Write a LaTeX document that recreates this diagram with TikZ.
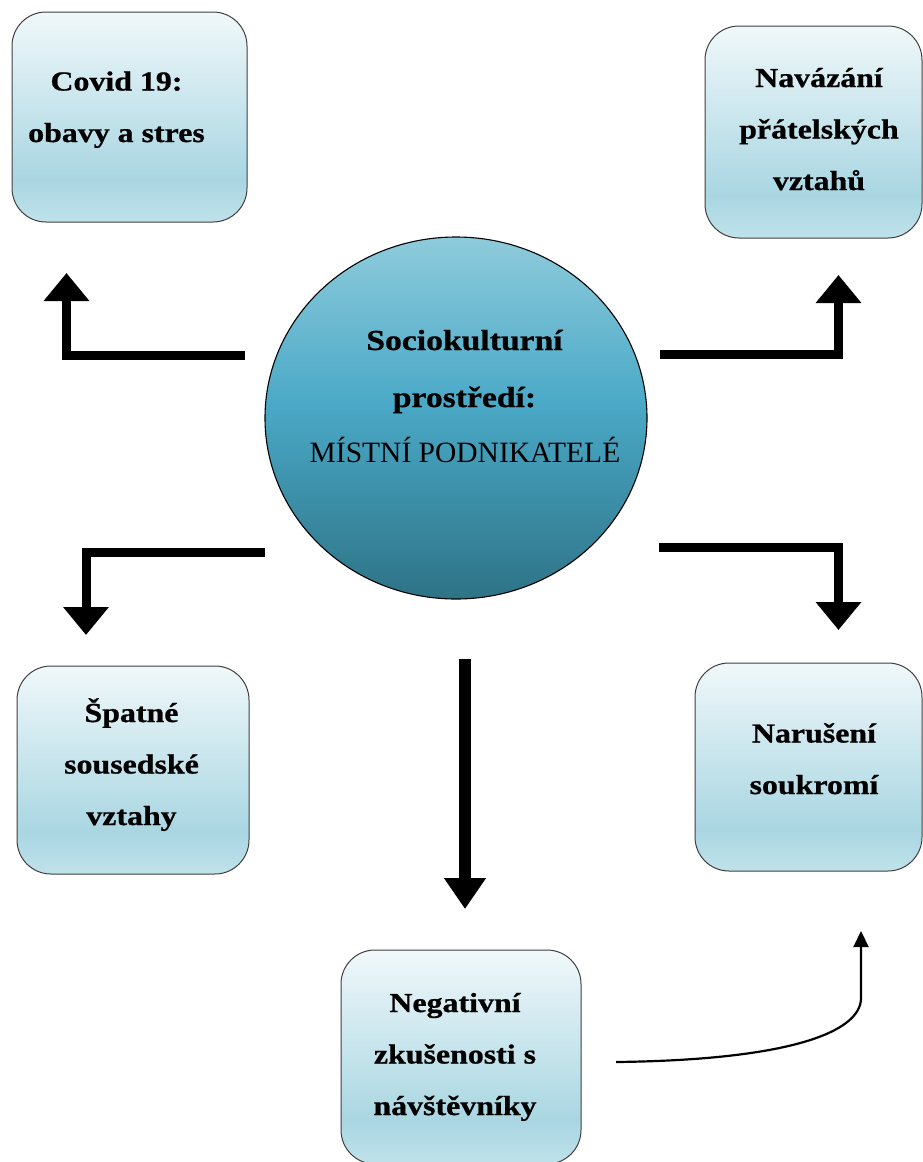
\documentclass[tikz,border=0pt]{standalone}
\usepackage{fontspec}
\setmainfont{Liberation Serif}[BoldFeatures={FakeStretch=1.16,FakeBold=0.8}]
\usetikzlibrary{arrows.meta,shapes.geometric}
\definecolor{boxtop}{HTML}{F0F8FA}
\definecolor{boxmid}{HTML}{A9D6E2}
\definecolor{boxbot}{HTML}{C0E2EA}
\definecolor{boxline}{HTML}{404040}
\definecolor{baltop}{HTML}{8ECBDB}
\definecolor{balmid}{HTML}{4AA9C7}
\definecolor{balbot}{HTML}{2E7386}
\pgfdeclareverticalshading{boxshade}{100bp}{color(0bp)=(boxbot); color(25bp)=(boxbot); color(35bp)=(boxmid); color(75bp)=(boxtop); color(100bp)=(boxtop)}
\pgfdeclareverticalshading{ballshade}{100bp}{color(0bp)=(balbot); color(25bp)=(balbot); color(52bp)=(balmid); color(75bp)=(baltop); color(100bp)=(baltop)}
\begin{document}
\begin{tikzpicture}[x=1pt,y=-1pt,
  box/.style={draw=boxline, line width=1pt, rounded corners=34pt, shading=boxshade, inner sep=0pt, rectangle},
  lbl/.style={align=center, anchor=base, font=\fontsize{27.5}{51.5}\selectfont\bfseries, inner sep=0pt},
  elbow/.style={line width=9pt, line join=miter, -{Triangle[length=28pt,width=44pt]}},
]
\useasboundingbox (0,0) rectangle (923,1162);
\fill[white] (0,0) rectangle (923,1162);
\clip (0,0) rectangle (923,1162);

% boxes
\node[box, minimum width=235pt, minimum height=210pt] (covid) at (129.5,117) {};
\node[box, minimum width=217pt, minimum height=212pt] (navaz) at (813.5,132) {};
\node[box, minimum width=232pt, minimum height=208pt] (spatne) at (133,770) {};
\node[box, minimum width=227pt, minimum height=208pt] (naruse) at (808.5,767) {};
\node[box, minimum width=240pt, minimum height=214pt] (negat) at (461,1057) {};

% centre
\node[ellipse, draw=black, line width=1.1pt, shading=ballshade, minimum width=382pt, minimum height=362pt, inner sep=0pt] (centre) at (456,418) {};

% labels (anchor = baseline of the last line)
\node[lbl] (covidt) at (116.5,142) {Covid 19:\\obavy a stres};
\node[lbl] (navazt) at (819,190) {Navázání\\přátelských\\vztahů};
\node[lbl] (spatnet) at (131.5,825) {Špatné\\sousedské\\vztahy};
\node[lbl] (naruset) at (814,794) {Narušení\\soukromí};
\node[lbl] (negatt) at (455,1115) {Negativní\\zkušenosti s\\návštěvníky};
\node[lbl, font=\fontsize{29}{57}\selectfont\bfseries] (centret) at (464.5,407) {Sociokulturní\\prostředí:};
\node[anchor=base, inner sep=0pt, font=\fontsize{29.5}{56}\selectfont] (centrer) at (465,462) {MÍSTNÍ PODNIKATELÉ};

% connector ends
\coordinate (a1s) at (245,355);
\coordinate (a1e) at (66.5,273);
\coordinate (a2s) at (660,354);
\coordinate (a2e) at (838.5,275);
\coordinate (a3s) at (265,552);
\coordinate (a3e) at (86,635);
\coordinate (a4s) at (659,547.5);
\coordinate (a4e) at (838.5,630);
\coordinate (a5s) at (465,659);
\coordinate (a5e) at (465,909);
\coordinate (a6s) at (616,1062);
\coordinate (a6m) at (861,998);
\coordinate (a6e) at (861,931);

\draw[elbow] (a1s) -| (a1e);
\draw[elbow] (a2s) -| (a2e);
\draw[elbow] (a3s) -| (a3e);
\draw[elbow] (a4s) -| (a4e);
\draw[line width=12pt, -{Triangle[length=31pt,width=40pt]}] (a5s) -- (a5e);
\draw[line width=2.2pt, -{Triangle[length=16pt,width=15pt]}] (a6s) .. controls (790,1060) and (861,1032) .. (a6m) -- (a6e);
\end{tikzpicture}
\end{document}
